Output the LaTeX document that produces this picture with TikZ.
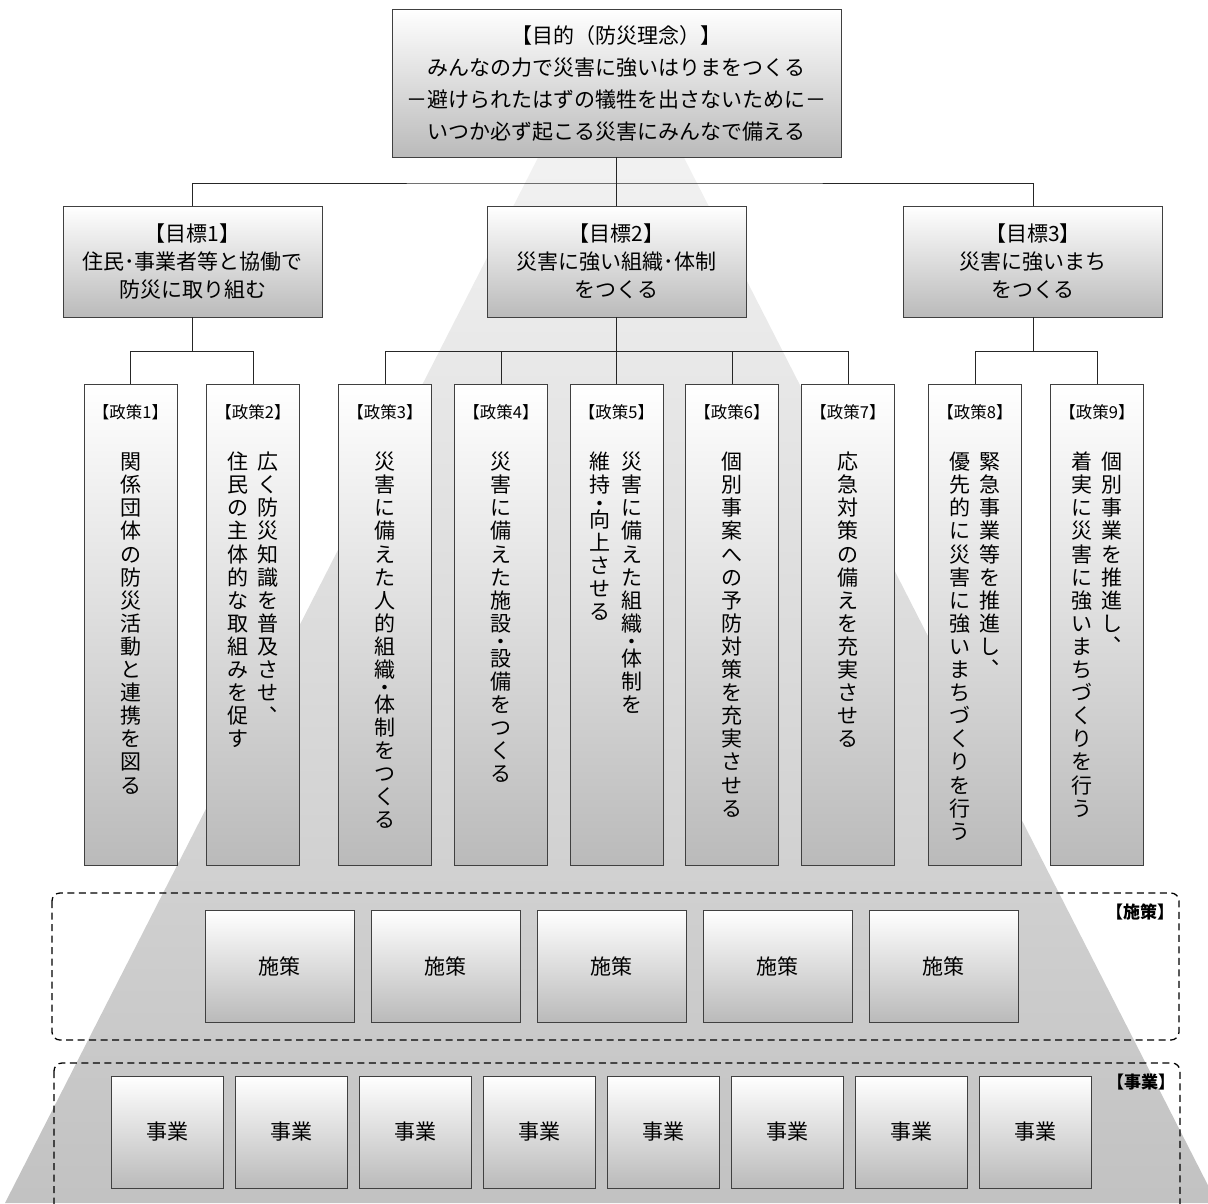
\documentclass[tikz,border=0pt]{standalone}
\usepackage{fontspec}
\setmainfont{Noto Sans CJK JP}
\usepackage{graphicx}
\newcommand\fs[2]{\fontsize{#1}{#2}\selectfont}
\ExplSyntaxOn
\cs_new_protected:Npn \my_vch:n #1
 {
  \str_if_eq:nnTF {#1} {、}
   {
    \hbox_to_wd:nn {1.1em}
     { \vrule width 0pt height 0.88em depth 0.22em \hskip 0.62em
       \makebox[0pt][l]{\raisebox{0.6em}[0pt][0pt]{#1}} \hss }
   }
   {
    \str_if_eq:nnTF {#1} {・}
     {
      \hbox_to_wd:nn {1.1em}
       { \hss \vrule width 0pt height 0.55em depth 0pt
         \raisebox{-0.1em}[0pt][0pt]{#1} \hss }
     }
     {
      \hbox_to_wd:nn {1.1em}
       { \hss \vrule width 0pt height 0.88em depth 0.22em #1 \hss }
     }
   }
 }
\NewDocumentCommand \vcol { m }
 { \vbox:n { \offinterlineskip \tl_map_function:nN {#1} \my_vch:n } }
\ExplSyntaxOff
\begin{document}
\begin{tikzpicture}[x=1pt,y=-1pt,
  box/.style={draw=black!75, line width=0.9pt, top color=white, bottom color=black!27, inner sep=0pt, anchor=center},
  conn/.style={draw=black!85, line width=1pt},
  grp/.style={draw=black, line width=1.3pt, dash pattern=on 7pt off 4.5pt, rounded corners=8pt},
  phead/.style={font=\fs{16.5}{18}, inner sep=0pt},
  ptext/.style={anchor=north, inner sep=0pt, font=\fs{21}{23}},
  smallbox/.style={box, font=\fs{21}{24}},
  glabel/.style={font=\bfseries\fs{17}{18}, inner sep=0pt},
]
\useasboundingbox (0,0) rectangle (1208,1203);
\clip (0,0) rectangle (1208,1203);

% background trapezoid
\shade[top color=black!5, bottom color=black!24] (547,140) -- (675,140) -- (1217,1203) -- (5,1203) -- cycle;

% group frames
\draw[grp] (52,893) rectangle (1179,1040);
\draw[grp] (54,1063) rectangle (1180,1240);
\node[glabel] (lab1) at (1140,912) {【施策】};
\node[glabel] (lab2) at (1141,1082) {【事業】};

% top and goals
\node[box, minimum width=449pt, minimum height=148pt, align=center, font=\fs{21}{32}] (top) at (616.5,83)
  {【目的（防災理念）】\\みんなの力で災害に強いはりまをつくる\\－避けられたはずの犠牲を出さないために－\\いつか必ず起こる災害にみんなで備える};
\node[box, minimum width=259pt, minimum height=111pt, align=center, font=\fs{21}{28}] (g1) at (192.5,261.5)
  {【目標1】\\住民･事業者等と協働で\\防災に取り組む};
\node[box, minimum width=259pt, minimum height=111pt, align=center, font=\fs{21}{28}] (g2) at (616.5,261.5)
  {【目標2】\\災害に強い組織･体制\\をつくる};
\node[box, minimum width=259pt, minimum height=111pt, align=center, font=\fs{21}{28}] (g3) at (1033,261.5)
  {【目標3】\\災害に強いまち\\をつくる};

% policy boxes
\foreach \n/\x in {1/130.5,2/253,3/385,4/501,5/616.5,6/732,7/848,8/975,9/1097}{
  \node[box, minimum width=93pt, minimum height=481pt] (p\n) at (\x,624.5) {};
  \node[phead] (p\n h) at (\x,412) {【政策\n】};
}

% connectors
\coordinate (j0) at (616.5,183);
\draw[conn] (top.south) -- (g2.north);
\draw[conn] (g1.north) |- (j0) -| (g3.north);
\draw[conn] (g1.south) -- ++(0,34) coordinate (j1);
\draw[conn] (p1.north) |- (j1) -| (p2.north);
\draw[conn] (g2.south) -- ++(0,34) coordinate (j2);
\draw[conn] (p3.north) |- (j2) -| (p7.north);
\draw[conn] (p4.north) -- (p4.north |- j2);
\draw[conn] (p5.north) -- (j2);
\draw[conn] (p6.north) -- (p6.north |- j2);
\draw[conn] (g3.south) -- ++(0,34) coordinate (j3);
\draw[conn] (p8.north) |- (j3) -| (p9.north);

% policy texts
\node[ptext] (p1t) at (130.5,451) {\vcol{関係団体の防災活動と連携を図る}};
\node[ptext] (p2a) at (268,451) {\vcol{広く防災知識を普及させ、}};
\node[ptext] (p2b) at (238,451) {\vcol{住民の主体的な取組みを促す}};
\node[ptext] (p3t) at (385,451) {\vcol{災害に備えた人的組織・体制をつくる}};
\node[ptext] (p4t) at (501,451) {\vcol{災害に備えた施設・設備をつくる}};
\node[ptext] (p5a) at (632,451) {\vcol{災害に備えた組織・体制を}};
\node[ptext] (p5b) at (600,451) {\vcol{維持・向上させる}};
\node[ptext] (p6t) at (732,451) {\vcol{個別事案への予防対策を充実させる}};
\node[ptext] (p7t) at (848,451) {\vcol{応急対策の備えを充実させる}};
\node[ptext] (p8a) at (990,451) {\vcol{緊急事業等を推進し、}};
\node[ptext] (p8b) at (960,451) {\vcol{優先的に災害に強いまちづくりを行う}};
\node[ptext] (p9a) at (1112,451) {\vcol{個別事業を推進し、}};
\node[ptext] (p9b) at (1082,451) {\vcol{着実に災害に強いまちづくりを行う}};

% measures
\foreach \n/\x in {1/279.5,2/445.5,3/611.5,4/777.5,5/943.5}{
  \node[smallbox, minimum width=149pt, minimum height=112pt] (s\n) at (\x,966) {施策};
}
% projects
\foreach \n/\x in {1/167,2/291,3/415,4/539,5/663,6/787,7/911,8/1035}{
  \node[smallbox, minimum width=112pt, minimum height=112pt] (e\n) at (\x,1132) {事業};
}
\end{tikzpicture}
\end{document}
